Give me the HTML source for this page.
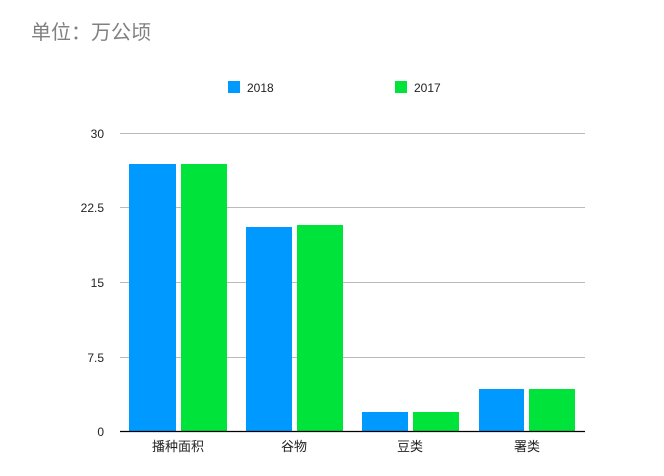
<!DOCTYPE html>
<html><head><meta charset="utf-8"><style>
body{margin:0;background:#fff;width:664px;height:471px;overflow:hidden}
</style></head><body>
<svg width="664" height="471" xmlns="http://www.w3.org/2000/svg" font-family="Liberation Sans, Noto Sans CJK SC, sans-serif">
<text x="31" y="39" font-size="20" fill="#808080">单位：万公顷</text>
<rect x="228" y="81" width="12" height="12" fill="#0099ff"/>
<text x="247" y="92" font-size="12" fill="#222">2018</text>
<rect x="395" y="81" width="12" height="12" fill="#00e33a"/>
<text x="414" y="92" font-size="12" fill="#222">2017</text>
<g stroke="#bbb" stroke-width="1">
<line x1="120" y1="133.5" x2="585" y2="133.5"/>
<line x1="120" y1="207.5" x2="585" y2="207.5"/>
<line x1="120" y1="282.5" x2="585" y2="282.5"/>
<line x1="120" y1="357.5" x2="585" y2="357.5"/>
</g>
<g font-size="12" fill="#222" text-anchor="end">
<text x="104" y="138">30</text>
<text x="104" y="212">22.5</text>
<text x="104" y="287">15</text>
<text x="104" y="362">7.5</text>
<text x="104" y="436">0</text>
</g>
<g fill="#0099ff">
<rect x="129" y="164" width="47" height="267"/>
<rect x="246" y="227" width="46" height="204"/>
<rect x="362" y="412" width="46" height="19"/>
<rect x="479" y="389" width="45" height="42"/>
</g>
<g fill="#00e33a">
<rect x="181" y="164" width="46" height="267"/>
<rect x="297" y="225" width="46" height="206"/>
<rect x="413" y="412" width="46" height="19"/>
<rect x="529" y="389" width="46" height="42"/>
</g>
<line x1="120" y1="431.5" x2="585" y2="431.5" stroke="#000" stroke-width="1.2"/>
<g font-size="13" fill="#222" text-anchor="middle">
<text x="178" y="451">播种面积</text>
<text x="294" y="451">谷物</text>
<text x="410" y="451">豆类</text>
<text x="527" y="451">署类</text>
</g>
</svg>
</body></html>
